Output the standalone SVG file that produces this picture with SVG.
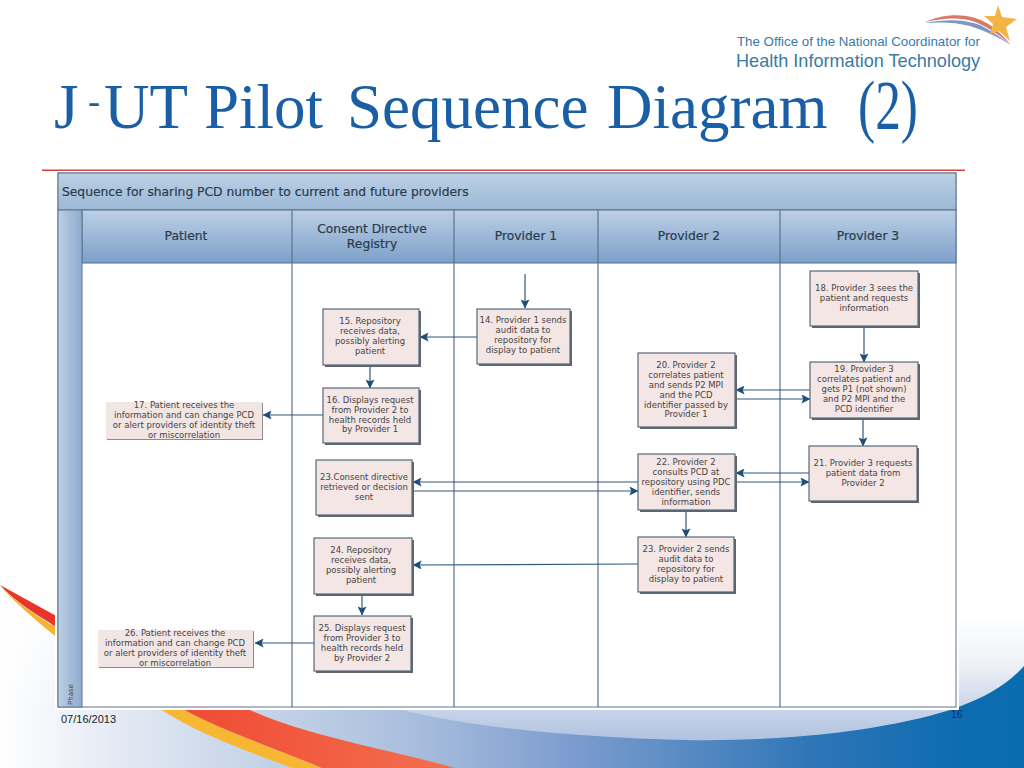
<svg xmlns="http://www.w3.org/2000/svg" width="1024" height="768" viewBox="0 0 1024 768">
<defs>
<linearGradient id="pale" gradientUnits="userSpaceOnUse" x1="0" x2="1024" y1="0" y2="0"><stop offset="0" stop-color="#ffffff"/><stop offset=".2" stop-color="#d0dbec"/><stop offset=".4" stop-color="#aabfde"/><stop offset=".55" stop-color="#7f9ecf"/><stop offset=".8" stop-color="#2d75b6"/><stop offset=".93" stop-color="#0e6cb0"/><stop offset="1" stop-color="#0a6cb0"/></linearGradient>
<linearGradient id="cres" gradientUnits="userSpaceOnUse" x1="0" x2="0" y1="615" y2="740"><stop offset="0" stop-color="#ffffff"/><stop offset=".4" stop-color="#eef1f6"/><stop offset=".72" stop-color="#ccd6e9"/><stop offset="1" stop-color="#b0c3e1"/></linearGradient>
<linearGradient id="fade" x1="0" x2="0" y1="0" y2="1"><stop offset="0" stop-color="#ffffff"/><stop offset="1" stop-color="#ffffff" stop-opacity="0"/></linearGradient>
<linearGradient id="red" gradientUnits="userSpaceOnUse" x1="180" x2="460" y1="0" y2="0"><stop offset="0" stop-color="#ef4a34"/><stop offset="1" stop-color="#f4704f"/></linearGradient>
<linearGradient id="band" x1="0" x2="0" y1="0" y2="1"><stop offset="0" stop-color="#bcd0e5"/><stop offset="1" stop-color="#9bb8d6"/></linearGradient>
<linearGradient id="band2" x1="0" x2="0" y1="0" y2="1"><stop offset="0" stop-color="#bcd0e6"/><stop offset="1" stop-color="#7d9fc8"/></linearGradient>
<linearGradient id="phase" x1="0" x2="1" y1="0" y2="0"><stop offset="0" stop-color="#bccfe5"/><stop offset="1" stop-color="#8eabce"/></linearGradient>
<marker id="a" viewBox="0 0 10 10" refX="9.5" refY="5" markerWidth="9" markerHeight="9" markerUnits="userSpaceOnUse" orient="auto"><path d="M0 0L10 5L0 10L2 5Z" fill="#1f4e79"/></marker>
</defs>
<style>
.b{fill:#f3e6e4;stroke:#56697c;stroke-width:1.2}
.s{fill:#5d666f}
.n{fill:#f2e6e4}
.m{fill:#8b8b8b}
.t{font:8.5px "DejaVu Sans",sans-serif;fill:#444444;text-anchor:middle}
.h{font:12.3px "DejaVu Sans",sans-serif;fill:#2a3b4c;stroke:#2a3b4c;stroke-width:.2;text-anchor:middle}
.l{fill:none;stroke:#33597f;stroke-width:1.2;marker-end:url(#a)}
.g{fill:none;stroke:#5e7488;stroke-width:1.2}
</style>
<rect width="1024" height="768" fill="#ffffff"/>
<g id="background">
<path d="M0 590H60V700H958V655H1024V768H0Z" fill="url(#pale)"/>
<rect x="0" y="590" width="60" height="120" fill="url(#fade)"/>
<path d="M958 615H1024V666C1006 686 985 697 956 708C900 727 800 742 686 740C600 738 480 730 403 710V700H958Z" fill="url(#cres)"/>
<path d="M0 585L60 618V630L50 623Q15 602 0 585Z" fill="#e8352a"/>
<path d="M1 587Q20 608 60 640V630Q20 606 1 587Z" fill="#f6b233"/>
<path d="M160 709C200 735 250 752 292 768H322C280 750 220 730 183 709Z" fill="#f7b733"/>
<path d="M183 709C220 730 280 750 322 768H455C400 752 300 735 248 709Z" fill="url(#red)"/>
</g>
<g id="logo">
<path d="M925 22C945 13 970 12 990 25C998 31 1005 38 1010 44C1000 36 990 28 975 22C960 17 945 18 925 22Z" fill="#d9796a"/>
<path d="M925 23C945 19 965 19 980 25C990 30 1002 38 1011 45C1000 38 985 31 970 26C955 22 940 22 925 23Z" fill="#7c98c4"/>
<path d="M998 5L1002 17L1017 19L1006 27L1010 41L999 31L990 34L993 24L984 16L995 16Z" fill="#f2b544"/>
<text x="737" y="46" font-family="Liberation Sans, sans-serif" font-size="13.3" fill="#3a7aa6">The Office of the National Coordinator for</text>
<text x="736" y="67" font-family="Liberation Sans, sans-serif" font-size="18.1" fill="#3a7aa6">Health Information Technology</text>
</g>
<g id="title" font-family="Liberation Serif, serif" fill="#1a5fa6">
<text y="128" font-size="63"><tspan x="54">J</tspan><tspan x="88" font-size="36" dy="-15">-</tspan><tspan dy="15" x="104">UT </tspan><tspan x="204">Pilot </tspan><tspan x="347">Sequence </tspan><tspan x="607">Diagram </tspan></text>
<text x="858" y="129" font-size="70" textLength="60" lengthAdjust="spacingAndGlyphs">(2)</text>
</g>
<rect x="42" y="169.500" width="923" height="1.500" fill="#d8423c"/>
<g id="table">
<rect x="55" y="171" width="904" height="539" fill="#ffffff"/>
<rect x="58" y="173" width="898" height="534" fill="#ffffff" stroke="#5e7488"/>
<rect x="58" y="173" width="898" height="37" fill="url(#band)" stroke="#5e7488"/>
<rect x="82" y="210" width="874" height="53" fill="url(#band2)" stroke="#4f6f92"/>
<rect x="58" y="210" width="24" height="497" fill="url(#phase)" stroke="#5e7488"/>
<path class="g" d="M292 210V707M454 210V707M598 210V707M780 210V707"/>
<text x="62" y="196" font-family="DejaVu Sans, sans-serif" font-size="12.3" fill="#2a3b4c" stroke="#2a3b4c" stroke-width=".2">Sequence for sharing PCD number to current and future providers</text>
<text class="h" x="186" y="240">Patient</text>
<text class="h" x="372" y="233">Consent Directive</text>
<text class="h" x="372" y="248">Registry</text>
<text class="h" x="526" y="240">Provider 1</text>
<text class="h" x="689" y="240">Provider 2</text>
<text class="h" x="868" y="240">Provider 3</text>
<text transform="translate(73 705) rotate(-90)" font-family="DejaVu Sans, sans-serif" font-size="7" fill="#3a4a5a">Phase</text>
</g>
<g id="connectors">
<path class="l" d="M525 274V308"/>
<path class="l" d="M477 337H420"/>
<path class="l" d="M370 365V388"/>
<path class="l" d="M323 415H263"/>
<path class="l" d="M864 326V362"/>
<path class="l" d="M810 390H736"/>
<path class="l" d="M736 399H810"/>
<path class="l" d="M863 418V446"/>
<path class="l" d="M809 473H736"/>
<path class="l" d="M736 482H809"/>
<path class="l" d="M638 482H413"/>
<path class="l" d="M413 491H638"/>
<path class="l" d="M686 510V537"/>
<path class="l" d="M638 564L413 565"/>
<path class="l" d="M362 594V615"/>
<path class="l" d="M314 643H255"/>
</g>
<g id="n14"><rect class="s" x="479" y="311" width="93" height="55"/><rect class="b" x="477" y="309" width="93" height="55"/><text class="t" x="523" y="323">14. Provider 1 sends</text><text class="t" x="523" y="333">audit data to</text><text class="t" x="523" y="343">repository for</text><text class="t" x="523" y="353">display to patient</text></g>
<g id="n15"><rect class="s" x="325" y="311" width="96" height="56"/><rect class="b" x="323" y="309" width="96" height="56"/><text class="t" x="370" y="324">15. Repository</text><text class="t" x="370" y="334">receives data,</text><text class="t" x="370" y="344">possibly alerting</text><text class="t" x="370" y="354">patient</text></g>
<g id="n16"><rect class="s" x="325" y="390" width="96" height="55"/><rect class="b" x="323" y="388" width="96" height="55"/><text class="t" x="370" y="403">16. Displays request</text><text class="t" x="370" y="413">from Provider 2 to</text><text class="t" x="370" y="423">health records held</text><text class="t" x="370" y="432">by Provider 1</text></g>
<g id="n17"><rect class="m" x="107" y="403" width="156" height="37"/><rect class="n" x="106" y="402" width="156" height="37"/><text class="t" x="184" y="408">17. Patient receives the</text><text class="t" x="184" y="418">information and can change PCD</text><text class="t" x="184" y="428">or alert providers of identity theft</text><text class="t" x="184" y="438">or miscorrelation</text></g>
<g id="n18"><rect class="s" x="812" y="273" width="108" height="55"/><rect class="b" x="810" y="271" width="108" height="55"/><text class="t" x="864" y="291">18. Provider 3 sees the</text><text class="t" x="864" y="301">patient and requests</text><text class="t" x="864" y="311">information</text></g>
<g id="n19"><rect class="s" x="812" y="364" width="108" height="56"/><rect class="b" x="810" y="362" width="108" height="56"/><text class="t" x="864" y="372">19. Provider 3</text><text class="t" x="864" y="382">correlates patient and</text><text class="t" x="864" y="392">gets P1 (not shown)</text><text class="t" x="864" y="402">and P2 MPI and the</text><text class="t" x="864" y="412">PCD identifier</text></g>
<g id="n20"><rect class="s" x="640" y="355" width="97" height="74"/><rect class="b" x="638" y="353" width="97" height="74"/><text class="t" x="686" y="368">20. Provider 2</text><text class="t" x="686" y="378">correlates patient</text><text class="t" x="686" y="388">and sends P2 MPI</text><text class="t" x="686" y="398">and the PCD</text><text class="t" x="686" y="408">identifier passed by</text><text class="t" x="686" y="417">Provider 1</text></g>
<g id="n21"><rect class="s" x="811" y="448" width="108" height="55"/><rect class="b" x="809" y="446" width="108" height="55"/><text class="t" x="863" y="466">21. Provider 3 requests</text><text class="t" x="863" y="476">patient data from</text><text class="t" x="863" y="486">Provider 2</text></g>
<g id="n22"><rect class="s" x="640" y="456" width="97" height="56"/><rect class="b" x="638" y="454" width="97" height="56"/><text class="t" x="686" y="465">22. Provider 2</text><text class="t" x="686" y="475">consults PCD at</text><text class="t" x="686" y="485">repository using PDC</text><text class="t" x="686" y="495">identifier, sends</text><text class="t" x="686" y="505">information</text></g>
<g id="n23b"><rect class="s" x="640" y="539" width="96" height="55"/><rect class="b" x="638" y="537" width="96" height="55"/><text class="t" x="686" y="552">23. Provider 2 sends</text><text class="t" x="686" y="562">audit data to</text><text class="t" x="686" y="572">repository for</text><text class="t" x="686" y="582">display to patient</text></g>
<g id="n23a"><rect class="s" x="318" y="462" width="96" height="55"/><rect class="b" x="316" y="460" width="96" height="55"/><text class="t" x="364" y="480">23.Consent directive</text><text class="t" x="364" y="490">retrieved or decision</text><text class="t" x="364" y="500">sent</text></g>
<g id="n24"><rect class="s" x="316" y="540" width="98" height="56"/><rect class="b" x="314" y="538" width="98" height="56"/><text class="t" x="361" y="553">24. Repository</text><text class="t" x="361" y="563">receives data,</text><text class="t" x="361" y="573">possibly alerting</text><text class="t" x="361" y="583">patient</text></g>
<g id="n25"><rect class="s" x="316" y="618" width="97" height="55"/><rect class="b" x="314" y="616" width="97" height="55"/><text class="t" x="362" y="631">25. Displays request</text><text class="t" x="362" y="641">from Provider 3 to</text><text class="t" x="362" y="651">health records held</text><text class="t" x="362" y="661">by Provider 2</text></g>
<g id="n26"><rect class="m" x="99" y="631" width="155" height="37"/><rect class="n" x="98" y="630" width="155" height="37"/><text class="t" x="175" y="636">26. Patient receives the</text><text class="t" x="175" y="646">information and can change PCD</text><text class="t" x="175" y="656">or alert providers of identity theft</text><text class="t" x="175" y="666">or miscorrelation</text></g>
<text x="61" y="723" font-family="Liberation Sans, sans-serif" font-size="11" fill="#222">07/16/2013</text>
<text x="951" y="718" font-family="Liberation Sans, sans-serif" font-size="10.500" fill="#12305a">16</text>
</svg>
